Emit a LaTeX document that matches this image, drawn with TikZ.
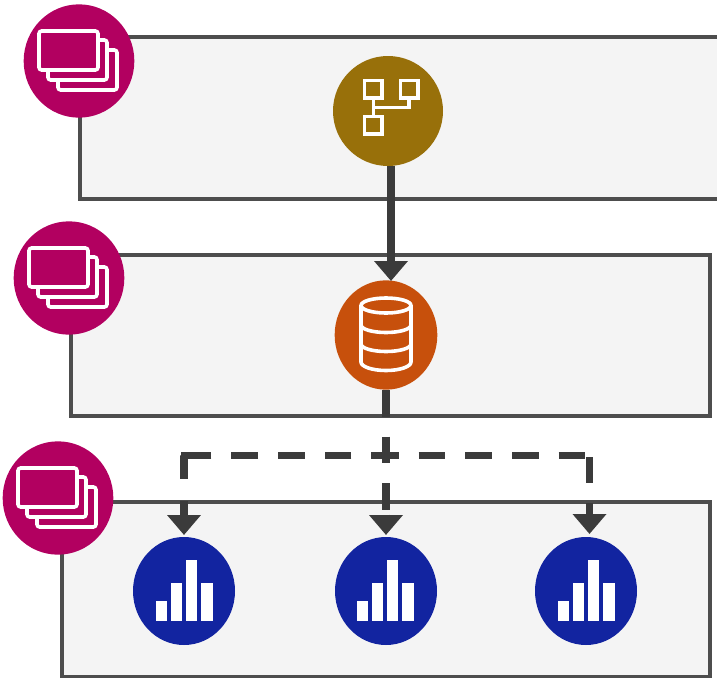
\documentclass[tikz,border=0pt]{standalone}
\usetikzlibrary{arrows.meta,shapes.geometric}

\definecolor{panelfill}{HTML}{F4F4F4}
\definecolor{paneldraw}{HTML}{4D4D4D}
\definecolor{flowdark}{HTML}{3B3B3B}
\definecolor{layerpink}{HTML}{B20060}
\definecolor{pipegold}{HTML}{98700A}
\definecolor{storeorange}{HTML}{C7500C}
\definecolor{chartblue}{HTML}{1224A0}

\tikzset{
  panel/.style={draw=paneldraw, fill=panelfill, line width=2.3pt},
  layerbadge/.style={ellipse, inner sep=0pt, minimum width=83pt, minimum height=85pt, fill=layerpink},
  chartbadge/.style={ellipse, inner sep=0pt, minimum width=76.5pt, minimum height=81pt, fill=chartblue},
  glyph/.style={draw=white, line width=2.7pt},
  thinglyph/.style={draw=white, line width=2.4pt},
  flow/.style={draw=flowdark, line width=5.6pt},
  flowdash/.style={flow, dash pattern=on 20.1pt off 14.9pt},
  flowtip/.style={-{Triangle[length=15pt, width=24.5pt]}},
}

% stacked cards, drawn around the centre of a pink circle
\newcommand{\stackglyph}[1]{
  \begin{scope}[shift={(#1)}]
    \draw[glyph, rounded corners=2pt, fill=layerpink] (-21,-11) rectangle (38,29);
    \draw[glyph, rounded corners=2pt, fill=layerpink] (-31,-21) rectangle (28,19);
    \draw[glyph, rounded corners=2pt, fill=layerpink] (-40,-30) rectangle (19,9);
  \end{scope}
}

% four bars, drawn around the centre of a blue circle
\newcommand{\barglyph}[1]{
  \begin{scope}[shift={(#1)}]
    \fill[white] (-28.3,30) rectangle (-16.7,10.3);
    \fill[white] (-13,30) rectangle (-1.7,-8.3);
    \fill[white] (2,30) rectangle (13.3,-31);
    \fill[white] (17.3,30) rectangle (28.7,-8.3);
  \end{scope}
}

\begin{document}
\begin{tikzpicture}[x=0.75pt, y=-0.75pt]
  \useasboundingbox (0,0) rectangle (717,678);

  % panels
  \begin{scope}
    \clip (0,0) rectangle (717,678);
    \draw[panel] (80,37) rectangle (740,199);
    \draw[panel] (71,255) rectangle (710,416);
    \draw[panel] (62,502) rectangle (710,676.5);
  \end{scope}

  % circles
  \node[layerbadge] (layerA) at (79,61) {};
  \node[layerbadge] (layerB) at (69,278) {};
  \node[layerbadge] (layerC) at (58,498) {};
  \node[circle, inner sep=0pt, minimum size=82.5pt, fill=pipegold] (pipe) at (388,111) {};
  \node[ellipse, inner sep=0pt, minimum width=77pt, minimum height=82pt, fill=storeorange] (store) at (386,335) {};
  \node[chartbadge] (chartA) at (184,591) {};
  \node[chartbadge] (chartB) at (386,591) {};
  \node[chartbadge] (chartC) at (586,591) {};

  % icons
  \stackglyph{79,61}
  \stackglyph{69,278}
  \stackglyph{58,498}
  \barglyph{184,591}
  \barglyph{385,591}
  \barglyph{586,591}

  \draw[thinglyph] (364.5,80.5) rectangle (382,98);
  \draw[thinglyph] (400.5,80.5) rectangle (418,98);
  \draw[thinglyph] (364.5,116.5) rectangle (382,134);
  \draw[thinglyph] (373.3,98) -- (373.3,116.5);
  \draw[thinglyph] (373.3,107.3) -- (409,107.3) -- (409,98);

  \draw[glyph] (386,305.5) ellipse (25 and 7.5);
  \draw[glyph] (361,305.5) -- (361,362) arc (180:0:25 and 8.5) -- (411,305.5);
  \draw[glyph] (361,325) arc (180:0:25 and 7.5);
  \draw[glyph] (361,344) arc (180:0:25 and 7.5);

  % flow
  \coordinate (pipeout) at (391,166);
  \coordinate (storein) at (391,281);
  \draw[flow, flowtip] (pipeout) -- (storein);

  \coordinate (splitleft) at (398,455.5);
  \coordinate (splitright) at (372,455.5);
  \coordinate (leftturn) at (184,455.5);
  \coordinate (rightturn) at (585,455.5);
  \coordinate (leftin) at (184,535);
  \coordinate (midin) at (386,535);
  \coordinate (rightin) at (589.5,534);
  \draw[flowdash] (store.south) -- (386,511);
  \draw[flow, flowtip] (386,511) ++(0,3.5) -- (midin);
  \draw[flowdash] (splitleft) -- (leftturn);
  \draw[flowdash] (181,455.5) -- (184,455.5) -- (184,481);
  \draw[flow, flowtip] (184,501) -- (leftin);
  \draw[flowdash] (splitright) -- (rightturn);
  \draw[flowdash] (589.5,457) -- (589.5,483);
  \draw[flow, flowtip] (589.5,503) -- (rightin);
\end{tikzpicture}
\end{document}
